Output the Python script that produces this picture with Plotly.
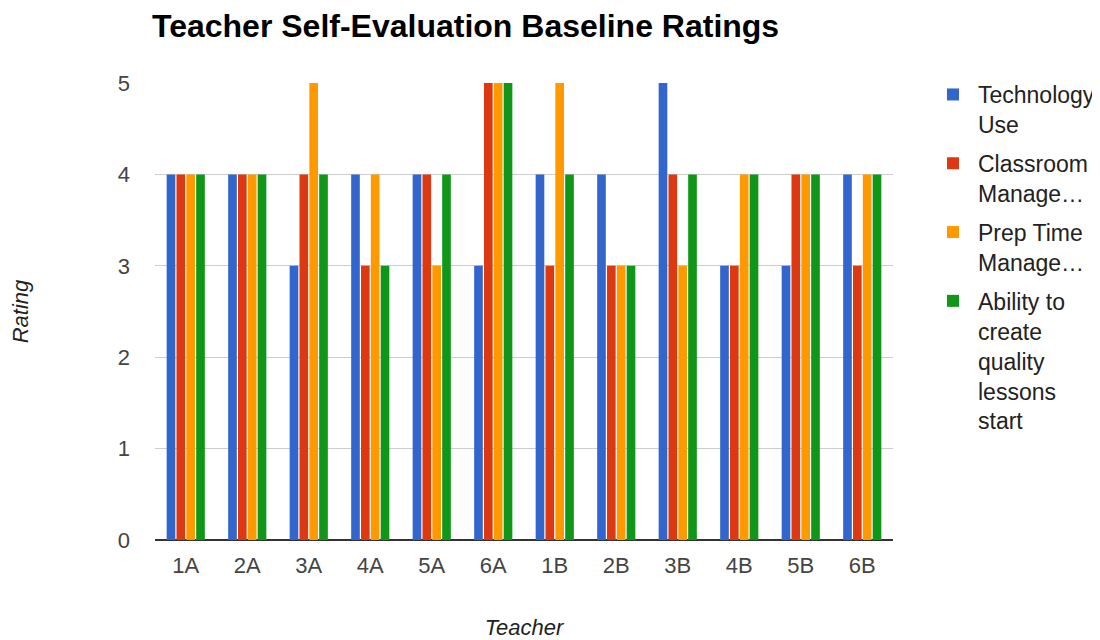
import plotly.graph_objects as go

teachers = ["1A", "2A", "3A", "4A", "5A", "6A", "1B", "2B", "3B", "4B", "5B", "6B"]
technology_use = [4, 4, 3, 4, 4, 3, 4, 4, 5, 3, 3, 4]
classroom_mgmt = [4, 4, 4, 3, 4, 5, 3, 3, 4, 3, 4, 3]
prep_time_mgmt = [4, 4, 5, 4, 3, 5, 5, 3, 3, 4, 4, 4]
quality_lessons = [4, 4, 4, 3, 4, 5, 4, 3, 4, 4, 4, 4]

series_names = ["Technology<br>Use", "Classroom<br>Manage…", "Prep Time<br>Manage…",
                "Ability to<br>create<br>quality<br>lessons<br>start"]
series_values = [technology_use, classroom_mgmt, prep_time_mgmt, quality_lessons]
colors = ["#3366cc", "#dc3912", "#ff9900", "#109618"]

fig = go.Figure()
for i, (name, vals, col) in enumerate(zip(series_names, series_values, colors)):
    fig.add_trace(go.Bar(x=teachers, y=vals, name=name, marker=dict(color=col, line=dict(width=0)),
                         legendgroup=f"g{i}"))

# page has an 8px body margin; figure is sized/positioned to compensate
W, H = 1092, 632
font = "Arial, Liberation Sans, sans-serif"
fig.update_layout(
    width=W, height=H,
    margin=dict(l=147, r=207, t=75, b=100, autoexpand=False),
    paper_bgcolor="white", plot_bgcolor="white",
    barmode="group", bargap=0.36, bargroupgap=0.12,
    font=dict(family=font, size=22, color="#444"),
    title=dict(text="<b>Teacher Self-Evaluation Baseline Ratings</b>", x=144/W, xref="container",
               xanchor="left", y=1-18/H, yanchor="middle", yref="container",
               font=dict(size=32, color="#000", family=font)),
    legend=dict(x=920/W, xref="container", xanchor="left", y=1-65/H, yref="container", yanchor="top",
                font=dict(size=23, color="#222", family=font), tracegroupgap=6,
                itemwidth=40, traceorder="grouped", valign="top", maxheight=560),
    xaxis=dict(showgrid=False, tickfont=dict(size=22, color="#444"), ticks="", showline=False,
               automargin=False, ticklabelstandoff=10,
               title=dict(text="<i>Teacher</i>", font=dict(size=22, color="#222"), standoff=45)),
    yaxis=dict(range=[0, 5], dtick=1, showgrid=True, gridcolor="#cccccc", gridwidth=1,
               zeroline=True, zerolinecolor="#333", zerolinewidth=2, automargin=False,
               tickfont=dict(size=22, color="#444"), ticklabelstandoff=24,
               title=dict(text="<i>Rating</i>", font=dict(size=22, color="#222"), standoff=85)),
)
fig.write_html("out.html")
